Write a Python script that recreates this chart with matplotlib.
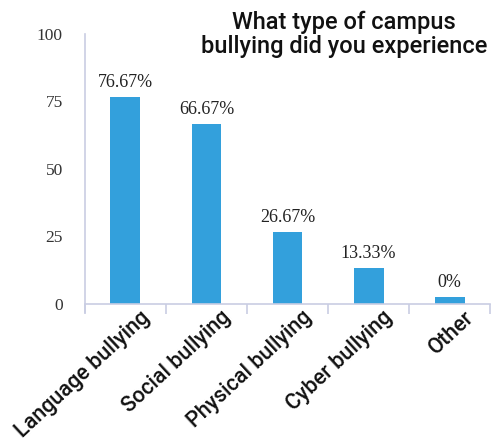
import matplotlib
matplotlib.use("Agg")
import matplotlib.pyplot as plt
import matplotlib.transforms as mtransforms

# data
categories = ["Language bullying", "Social bullying", "Physical bullying",
              "Cyber bullying", "Other"]
percentages = [76.67, 66.67, 26.67, 13.33, 0]
# drawn heights (the "Other" bar is shown as a thin stub)
bar_heights = [76.67, 66.67, 26.67, 13.33, 2.5]
value_labels = ["76.67%", "66.67%", "26.67%", "13.33%", "0%"]
yticks = [0, 25, 50, 75, 100]

bar_color = "#33a0dc"
axis_color = "#c9cde3"

fig = plt.figure(figsize=(4.94, 4.41), dpi=100)
ax = fig.add_axes([0.172, 0.311, 0.82, 0.612])

x = list(range(len(categories)))
ax.bar(x, bar_heights, width=0.37, color=bar_color, zorder=2)

# value labels above bars
for xi, h, lab in zip(x, bar_heights, value_labels):
    ax.text(xi, h + 2.2, lab, ha="center", va="bottom",
            fontsize=13, family="Liberation Serif", color="#222222")

ax.set_xlim(-0.5, len(categories) - 0.5)
ax.set_ylim(0, 100)
ax.set_yticks(yticks)
ax.set_yticklabels([str(t) for t in yticks], family="Liberation Serif",
                   fontsize=12.5, color="#333333")
ax.tick_params(axis="y", length=0, pad=16)

# category boundary ticks below the x axis
ax.set_xticks([i - 0.5 for i in range(len(categories) + 1)])
ax.set_xticklabels([])
ax.tick_params(axis="x", length=7, color=axis_color, width=1.2, direction="out")

for side in ["top", "right"]:
    ax.spines[side].set_visible(False)
for side in ["left", "bottom"]:
    ax.spines[side].set_color(axis_color)
    ax.spines[side].set_linewidth(1.2)
ax.spines["left"].set_bounds(-3, 100)

# rotated category labels
offset = mtransforms.ScaledTranslation(14 / 100, -3 / 100, fig.dpi_scale_trans)
for xi, cat in zip(x, categories):
    ax.text(xi, 0, cat, rotation=43, ha="right", va="top",
            rotation_mode="anchor", fontsize=15.5, family="Roboto",
            fontweight=500, color="#111111",
            transform=ax.get_xaxis_transform() + offset)

fig.text(0.697, 0.975, "What type of campus\nbullying did you experience",
         ha="center", va="top", fontsize=17, fontweight=500,
         family="Roboto", linespacing=1.02, color="#111111")

fig.savefig("out.png", dpi=100)
